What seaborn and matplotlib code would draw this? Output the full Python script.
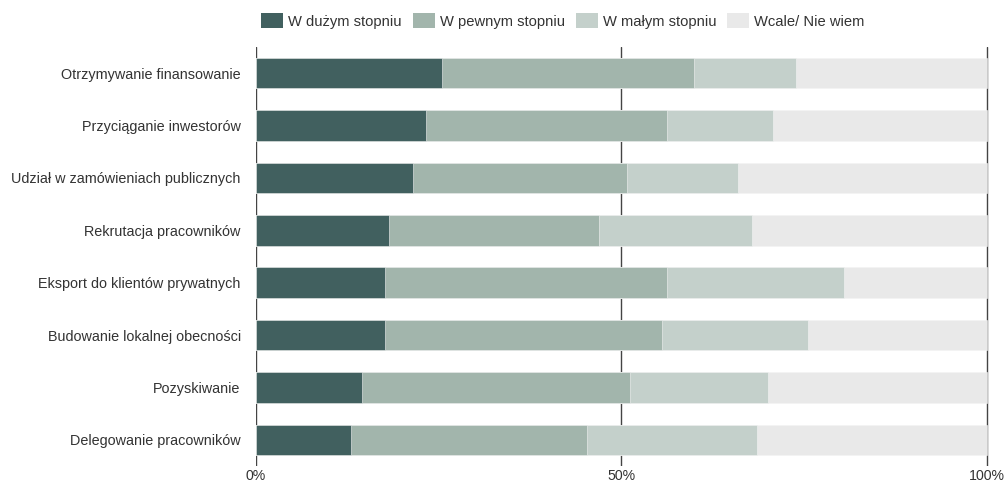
import numpy as np
import pandas as pd
import matplotlib
matplotlib.use("Agg")
import matplotlib.pyplot as plt
from matplotlib.patches import Patch
import seaborn as sns

categories = [
    "Otrzymywanie finansowanie",
    "Przyciąganie inwestorów",
    "Udział w zamówieniach publicznych",
    "Rekrutacja pracowników",
    "Eksport do klientów prywatnych",
    "Budowanie lokalnej obecności",
    "Pozyskiwanie",
    "Delegowanie pracowników",
]
series_names = ["W dużym stopniu", "W pewnym stopniu", "W małym stopniu", "Wcale/ Nie wiem"]
duzym = [25.4, 23.2, 21.5, 18.2, 17.7, 17.7, 14.5, 13.0]
pewnym = [34.6, 33.0, 29.2, 28.7, 38.5, 37.8, 36.7, 32.3]
malym = [13.9, 14.5, 15.2, 21.0, 24.2, 20.1, 18.9, 23.3]
wcale = [26.1, 29.3, 34.1, 32.1, 19.6, 24.4, 29.9, 31.4]
tick_values = [0, 50, 100]
tick_labels = ["0%", "50%", "100%"]

colors = ["#41605f", "#a2b5ac", "#c4d0cb", "#e9e9e9"]

sns.set_theme(style="white")
plt.rcParams["font.family"] = ["Liberation Sans", "DejaVu Sans"]
plt.rcParams["font.size"] = 10

df = pd.DataFrame({"kategoria": categories, series_names[0]: duzym,
                   series_names[1]: pewnym, series_names[2]: malym,
                   series_names[3]: wcale})
# cumulative right edges of each stacked segment
cum = df[series_names].cumsum(axis=1)

fig = plt.figure(figsize=(10.08, 4.84), dpi=100)
ax = fig.add_axes([256 / 1008, 1 - 466 / 484, 733 / 1008, 419 / 484])

for x in tick_values:
    ax.axvline(x, color="#444444", lw=1.0, zorder=0)

# draw from the outermost segment inwards so each bar covers the next
for name, col in reversed(list(zip(series_names, colors))):
    sns.barplot(data=cum, x=name, y=df["kategoria"], orient="h", color=col,
                width=0.58, ax=ax, edgecolor="#f4f4f4", linewidth=0.4,
                saturation=1, zorder=2)

ax.set_xlim(0, 100.3)
ax.set_ylim(7.5, -0.5)
ax.set_xticks(tick_values)
ax.set_xticklabels(tick_labels)
ax.set_xlabel("")
ax.set_ylabel("")
for s in ax.spines.values():
    s.set_visible(False)
ax.tick_params(axis="x", length=0, pad=2.5, labelsize=10.2, colors="#333333")
ax.tick_params(axis="y", length=0, pad=11, labelsize=10.4, colors="#333333")

handles = [Patch(facecolor=c, edgecolor="none") for c in colors]
fig.legend(handles, series_names, loc="center left",
           bbox_to_anchor=(261 / 1008, 1 - 21 / 484), ncol=4, frameon=False,
           handlelength=1.5, handleheight=1.1, handletextpad=0.34,
           columnspacing=0.75, borderpad=0, borderaxespad=0, fontsize=10.6,
           labelcolor="#333333")

fig.savefig("out.png", dpi=100)
